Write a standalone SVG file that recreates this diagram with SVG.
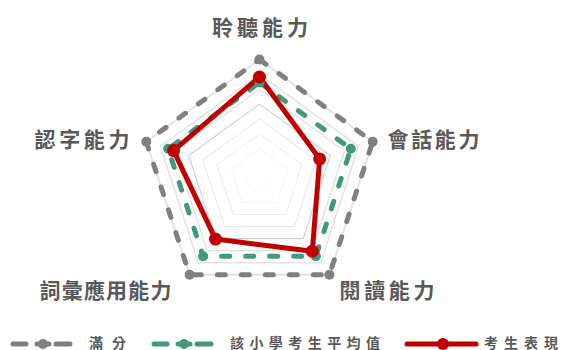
<svg xmlns="http://www.w3.org/2000/svg" xmlns:xlink="http://www.w3.org/1999/xlink" width="561" height="350" viewBox="0 0 561 350">
<style>
.lbl{font-family:"Noto Sans CJK TC","Noto Sans CJK SC",sans-serif;font-weight:700;font-size:21px;fill:#595959}
.leg{font-family:"Noto Sans CJK TC","Noto Sans CJK SC",sans-serif;font-weight:700;font-size:14px;fill:#595959}
.grid{fill:none;stroke:#e3e3e3;stroke-width:1.5;vector-effect:non-scaling-stroke}
.grid.dk{stroke:#d0d0d0}
.full{fill:none;stroke:#808080;stroke-width:5;stroke-dasharray:8 16;stroke-linecap:round;stroke-linejoin:round}
.avg{fill:none;stroke:#41987f;stroke-width:5;stroke-dasharray:8 16;stroke-linecap:round;stroke-linejoin:round}
.me{fill:none;stroke:#c00000;stroke-width:5;stroke-linejoin:round}
.pf{fill:#808080}.pa{fill:#41987f}.pm{fill:#c00000}
.lf{stroke:#808080;stroke-width:5;stroke-linecap:round}
.la{stroke:#41987f;stroke-width:5;stroke-linecap:round}
.lm{stroke:#c00000;stroke-width:5;stroke-linecap:round}
</style>
<defs>
<polygon id="pent" points="0,-100 95.106,-30.902 58.779,80.902 -58.779,80.902 -95.106,-30.902"/>
</defs>
<rect width="561" height="350" fill="#ffffff"/>
<g id="grid">
<use xlink:href="#pent" class="grid" transform="translate(259.5 178.5) scale(0.14875)"/>
<use xlink:href="#pent" class="grid" transform="translate(259.5 178.5) scale(0.2975)"/>
<use xlink:href="#pent" class="grid" transform="translate(259.5 178.5) scale(0.44625)"/>
<use xlink:href="#pent" class="grid" transform="translate(259.5 178.5) scale(0.595)"/>
<use xlink:href="#pent" class="grid dk" transform="translate(259.5 178.5) scale(0.74375)"/>
<use xlink:href="#pent" class="grid" transform="translate(259.5 178.5) scale(0.8925)"/>
<use xlink:href="#pent" class="grid" transform="translate(259.5 178.5) scale(1.04125)"/>
<use xlink:href="#pent" class="grid" transform="translate(259.5 178.5) scale(1.19)"/>
</g>
<g id="connectors">
<polygon class="full" points="259.5,59.5 372.7,141.7 329.4,274.8 189.6,274.8 146.3,141.7"/>
<polygon class="avg" points="259.5,82.5 350.8,148.8 315.9,256.2 203.1,256.2 168.2,148.8"/>
<polygon class="me" points="259.5,77 319.7,158.9 312.3,251.2 215.5,239.1 173.6,150.6"/>
</g>
<g id="points-full">
<circle class="pf" cx="259.5" cy="59.5" r="5"/><circle class="pf" cx="372.7" cy="141.7" r="5"/><circle class="pf" cx="329.4" cy="274.8" r="5"/><circle class="pf" cx="189.6" cy="274.8" r="5"/><circle class="pf" cx="146.3" cy="141.7" r="5"/>
</g>
<g id="points-avg">
<circle class="pa" cx="259.5" cy="82.5" r="5"/><circle class="pa" cx="350.8" cy="148.8" r="5"/><circle class="pa" cx="315.9" cy="256.2" r="5"/><circle class="pa" cx="203.1" cy="256.2" r="5"/><circle class="pa" cx="168.2" cy="148.8" r="5"/>
</g>
<g id="points-me">
<circle class="pm" cx="259.5" cy="77" r="6.5"/><circle class="pm" cx="319.7" cy="158.9" r="6.5"/><circle class="pm" cx="312.3" cy="251.2" r="6.5"/><circle class="pm" cx="215.5" cy="239.1" r="6.5"/><circle class="pm" cx="173.6" cy="150.6" r="6.5"/>
</g>
<g id="label-listening"><text class="lbl" x="212" y="35" textLength="96" lengthAdjust="spacing">聆聽能力</text></g>
<g id="label-speaking"><text class="lbl" x="387.5" y="146.5" textLength="92" lengthAdjust="spacing">會話能力</text></g>
<g id="label-reading"><text class="lbl" x="339.5" y="297.5" textLength="95" lengthAdjust="spacing">閱讀能力</text></g>
<g id="label-vocab"><text class="lbl" x="39.5" y="297.5" textLength="132" lengthAdjust="spacing">詞彙應用能力</text></g>
<g id="label-char"><text class="lbl" x="34.5" y="146.5" textLength="95" lengthAdjust="spacing">認字能力</text></g>
<g id="legend">
<line class="lf" x1="13" y1="344" x2="26" y2="344"/><line class="lf" x1="37" y1="344" x2="49" y2="344"/><line class="lf" x1="56" y1="344" x2="70" y2="344"/><circle class="pf" cx="43" cy="344" r="5"/>
<text class="leg" x="89" y="347.5" textLength="37" lengthAdjust="spacing">滿分</text>
<line class="la" x1="154" y1="344" x2="167" y2="344"/><line class="la" x1="178" y1="344" x2="190" y2="344"/><line class="la" x1="197" y1="344" x2="211" y2="344"/><circle class="pa" cx="184" cy="344" r="5"/>
<text class="leg" x="230" y="347.5" textLength="150" lengthAdjust="spacing">該小學考生平均值</text>
<line class="lm" x1="407" y1="344" x2="476" y2="344"/><circle class="pm" cx="443" cy="344" r="6"/>
<text class="leg" x="484" y="347.5" textLength="74" lengthAdjust="spacing">考生表現</text>
</g>
</svg>
